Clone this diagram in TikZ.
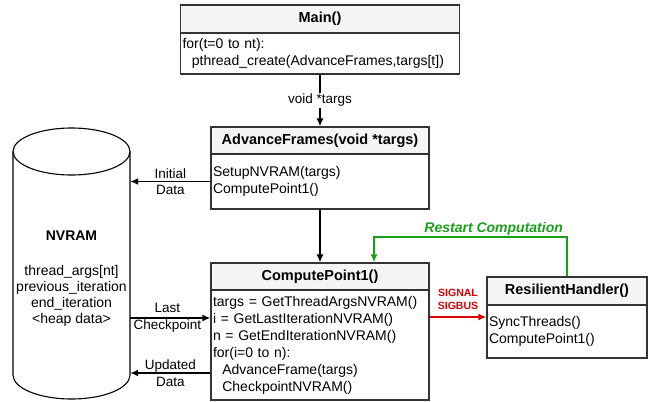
\documentclass[tikz,border=0pt]{standalone}
\usepackage{fontspec}
\setmainfont{Liberation Sans}
\usetikzlibrary{arrows.meta}
\definecolor{restartgreen}{RGB}{24,160,24}
\definecolor{signalred}{RGB}{214,0,0}
\tikzset{
	head/.style={rectangle,draw=black!80,fill=black!4,line width=1.1pt,inner sep=0pt,font=\bfseries\fontsize{14.5}{17}\selectfont},
	body/.style={rectangle,draw=black!80,line width=1.1pt,inner xsep=2pt,inner ysep=0pt,align=left,font=\fontsize{14}{17}\selectfont},
	flow/.style={-{Latex[length=8pt,width=7pt]},line width=1.6pt},
	lbl/.style={align=center,inner sep=1pt,font=\fontsize{13.5}{16.5}\selectfont}
}
\begin{document}
\begin{tikzpicture}[x=1pt,y=-1pt]
	\useasboundingbox (0,0) rectangle (649,402);

	\node at (320,  19) [head,minimum width=279pt,minimum height=28pt] (mainhead) {Main()};
	\node at (320,53.5) [body,text width=275pt,minimum height=41pt]    (mainbody) {for(t=0 to nt):\\~~pthread\_create(AdvanceFrames,targs[t])};
	\node at (320,140.5) [head,minimum width=218pt,minimum height=27pt] (afhead)   {AdvanceFrames(void *targs)};
	\node at (320,181.5) [body,text width=214pt,minimum height=55pt]    (afbody)   {SetupNVRAM(targs)\\ComputePoint1()};
	\node at (320,276.5) [head,minimum width=218pt,minimum height=27pt] (cphead)   {ComputePoint1()};
	\node at (320,  345) [body,text width=214pt,minimum height=110pt]   (cpbody)   {targs = GetThreadArgsNVRAM()\\i = GetLastIterationNVRAM()\\n = GetEndIterationNVRAM()\\for(i=0 to n):\\~~AdvanceFrame(targs)\\~~CheckpointNVRAM()};
	\node at (567,  291) [head,minimum width=160pt,minimum height=28pt] (rhhead)   {ResilientHandler()};
	\node at (567,331.5) [body,text width=156pt,minimum height=53pt]    (rhbody)   {SyncThreads()\\ComputePoint1()};

	\draw[line width=1.1pt] (13,151.5) -- (13,375) arc[start angle=180,end angle=360,x radius=58.5pt,y radius=24pt] -- (130,151.5);
	\draw[line width=1.1pt] (71.5,151.5) ellipse [x radius=58.5pt,y radius=23.5pt];
	\node at (71.5,263.5) [minimum width=117pt,minimum height=271pt,inner sep=0pt] (nvram) {};
	\node at (71.5,  236) [font=\bfseries\fontsize{14}{16}\selectfont] (nvramtitle) {NVRAM};
	\node at (71.5,  296) [align=center,inner sep=0pt,font=\fontsize{14}{16}\selectfont] (nvramdata) {thread\_args[nt]\\previous\_iteration\\end\_iteration\\<heap data>};

	\coordinate (lastcp)    at ([yshift=27pt]cpbody.west);
	\coordinate (updated)   at ([yshift=-28pt]cpbody.west);
	\coordinate (sigbus)    at ([yshift=28pt]cpbody.east);
	\coordinate (restartup) at (374,237);

	\draw[flow] (mainbody.south) -- node[lbl,fill=white] {void *targs} (afhead.north);
	\draw[flow] (afbody.south) -- (cphead.north);
	\draw[flow] (afbody.west) -- node[lbl] {Initial\\Data} (afbody.west -| nvram.east);
	\draw[flow] (lastcp -| nvram.east) -- node[lbl,xshift=-3pt] {Last\\Checkpoint} (lastcp);
	\draw[flow] (updated) -- node[lbl] {Updated\\Data} (updated -| nvram.east);
	\draw[flow,signalred] (sigbus) -- node[lbl,yshift=17.5pt,font=\bfseries\fontsize{10.5}{13}\selectfont] {SIGNAL\\SIGBUS} (sigbus -| rhbody.west);
	\draw[flow,restartgreen] (rhhead.north) |- node[pos=0.69,above,inner sep=1pt,font=\bfseries\itshape\fontsize{14}{16}\selectfont] {Restart Computation} (restartup) -- (restartup |- cphead.north);
\end{tikzpicture}
\end{document}
